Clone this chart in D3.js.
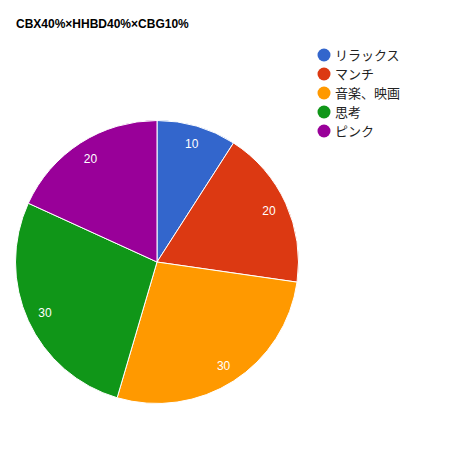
<!DOCTYPE html>
<html>
<head>
<meta charset="utf-8">
<script src="https://cdn.jsdelivr.net/npm/d3@7"></script>
<style>
  body { margin: 0; background: #fff; }
  svg { display: block; font-family: Arial, "Liberation Sans", "Noto Sans CJK JP", sans-serif; }
</style>
</head>
<body>
<svg id="chart" width="474" height="474"></svg>
<script>
// chart data
var title = "CBX40%×HHBD40%×CBG10%";
var categories = ["リラックス", "マンチ", "音楽、映画", "思考", "ピンク"];
var values = [10, 20, 30, 30, 20];
var colors = ["#3366cc", "#dc3912", "#ff9900", "#109618", "#990099"];

var width = 474, height = 474;
var cx = 157, cy = 262, radius = 141.5;

var svg = d3.select("#chart")
    .attr("width", width)
    .attr("height", height);

svg.append("rect")
    .attr("width", width)
    .attr("height", height)
    .attr("fill", "#fff");

svg.append("text")
    .attr("x", 16)
    .attr("y", 28)
    .attr("font-size", 12)
    .attr("font-weight", "bold")
    .attr("fill", "#000")
    .text(title);

var color = d3.scaleOrdinal().domain(categories).range(colors);

var pie = d3.pie()
    .sort(null)
    .value(function(d) { return d.value; });

var arc = d3.arc().innerRadius(0).outerRadius(radius);
var labelArc = d3.arc().innerRadius(radius * 0.87).outerRadius(radius * 0.87);

var data = categories.map(function(c, i) { return { name: c, value: values[i] }; });
var arcs = pie(data);

var g = svg.append("g")
    .attr("transform", "translate(" + cx + "," + cy + ")");

g.selectAll("path.slice")
    .data(arcs)
  .enter().append("path")
    .attr("class", "slice")
    .attr("d", arc)
    .attr("fill", function(d) { return color(d.data.name); })
    .attr("stroke", "#fff")
    .attr("stroke-width", 1);

g.selectAll("text.label")
    .data(arcs)
  .enter().append("text")
    .attr("class", "label")
    .attr("transform", function(d) { return "translate(" + labelArc.centroid(d) + ")"; })
    .attr("text-anchor", "middle")
    .attr("dy", "0.35em")
    .attr("font-size", 12)
    .attr("fill", "#fff")
    .text(function(d) { return d.data.value; });

var legend = svg.append("g")
    .attr("transform", "translate(324,55)");

var item = legend.selectAll("g.item")
    .data(categories)
  .enter().append("g")
    .attr("class", "item")
    .attr("transform", function(d, i) { return "translate(0," + (i * 19) + ")"; });

item.append("circle")
    .attr("r", 6.5)
    .attr("fill", function(d) { return color(d); });

item.append("text")
    .attr("x", 11)
    .attr("dy", "0.36em")
    .attr("font-size", 13)
    .attr("fill", "#222")
    .text(function(d) { return d; });
</script>
</body>
</html>
